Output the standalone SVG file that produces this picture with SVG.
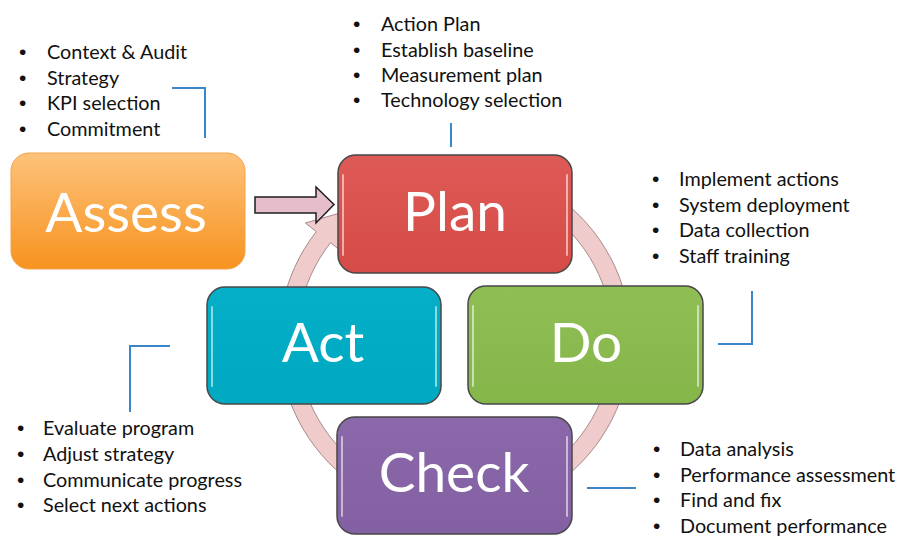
<svg xmlns="http://www.w3.org/2000/svg" width="898" height="537" viewBox="0 0 898 537">
  <defs>
    <linearGradient id="gAssess" x1="0" y1="0" x2="0" y2="1">
      <stop offset="0" stop-color="#FDC27A"/>
      <stop offset="1" stop-color="#F7931F"/>
    </linearGradient>
    <linearGradient id="gPlan" x1="0" y1="0" x2="0" y2="1">
      <stop offset="0" stop-color="#DE5A56"/>
      <stop offset="1" stop-color="#D54B47"/>
    </linearGradient>
    <linearGradient id="gDo" x1="0" y1="0" x2="0" y2="1">
      <stop offset="0" stop-color="#8FBE55"/>
      <stop offset="1" stop-color="#85B64A"/>
    </linearGradient>
    <linearGradient id="gAct" x1="0" y1="0" x2="0" y2="1">
      <stop offset="0" stop-color="#05AFC8"/>
      <stop offset="1" stop-color="#00A8C1"/>
    </linearGradient>
    <linearGradient id="gCheck" x1="0" y1="0" x2="0" y2="1">
      <stop offset="0" stop-color="#8B68A9"/>
      <stop offset="1" stop-color="#8260A2"/>
    </linearGradient>
  </defs>
  <style>
    .box { stroke: #474747; stroke-width: 1.5; }
    .gloss { stroke: #FFFFFF; stroke-width: 2; stroke-opacity: 0.55; fill: none; stroke-linecap: round; }
    .big { font-family: Lato, "Open Sans", "Liberation Sans", sans-serif; font-size: 55px; fill: #FFFFFF; text-anchor: middle; }
    .lst { font-family: Lato, "Open Sans", "Liberation Sans", sans-serif; font-size: 19.8px; fill: #111111; }
    .bul { font-family: "Liberation Sans", sans-serif; font-size: 21px; fill: #111111; }
    .blue { stroke: #3A86C8; stroke-width: 2; fill: none; }
  </style>

  <g id="connectors">
    <path id="cycle-ring" d="M 394.8 174.6 A 176 176 0 1 1 316.3 231.6 L 305.3 223.0 L 349.9 210.2 L 339.9 250.1 L 330.5 242.7 A 158 158 0 1 0 401.0 191.5 Z" fill="#EFCBCC" stroke="#A98A8A" stroke-width="1"/>
    <path id="assess-to-plan" d="M 255 197 L 316 197 L 316 187 L 334 204.5 L 316 223 L 316 213 L 255 213 Z" fill="#E6BECB" stroke="#1E1E1E" stroke-width="1.5" stroke-linejoin="miter"/>
    <polyline class="blue" points="172,88 205,88 205,138"/>
    <line class="blue" x1="451" y1="123" x2="451" y2="147"/>
    <polyline class="blue" points="752,291 752,344 718,344"/>
    <polyline class="blue" points="170,346 130,346 130,412"/>
    <line class="blue" x1="587" y1="488" x2="636" y2="488"/>
  </g>

  <g id="node-plan">
    <rect class="box" x="338" y="155" width="234" height="118" rx="18" fill="url(#gPlan)"/>
    <path class="gloss" d="M343 175 L343 255 M567 175 L567 255"/>
    <text class="big" x="455" y="231">Plan</text>
  </g>
  <g id="node-do">
    <rect class="box" x="468" y="286" width="235" height="118" rx="18" fill="url(#gDo)"/>
    <path class="gloss" d="M473 306 L473 386 M698 306 L698 386"/>
    <text class="big" x="586" y="362">Do</text>
  </g>
  <g id="node-check">
    <rect class="box" x="337" y="417" width="235" height="117" rx="18" fill="url(#gCheck)"/>
    <path class="gloss" d="M342 437 L342 516 M567 437 L567 516"/>
    <text class="big" x="454" y="492">Check</text>
  </g>
  <g id="node-act">
    <rect class="box" x="207" y="287" width="234" height="117" rx="18" fill="url(#gAct)"/>
    <path class="gloss" d="M212 307 L212 386 M436 307 L436 386"/>
    <text class="big" x="323" y="362">Act</text>
  </g>
  <g id="node-assess">
    <rect x="11" y="153" width="234" height="116" rx="18" fill="url(#gAssess)" stroke="#F2A24A" stroke-width="1"/>
    <text class="big" x="126" y="232">Assess</text>
  </g>

  <g id="notes-assess">
    <text class="bul" x="19" y="59">•</text><text class="lst" x="47" y="59">Context &amp; Audit</text>
    <text class="bul" x="19" y="85">•</text><text class="lst" x="47" y="85">Strategy</text>
    <text class="bul" x="19" y="110">•</text><text class="lst" x="47" y="110">KPI selection</text>
    <text class="bul" x="19" y="136">•</text><text class="lst" x="47" y="136">Commitment</text>
  </g>
  <g id="notes-plan">
    <text class="bul" x="353" y="31">•</text><text class="lst" x="381" y="31">Action Plan</text>
    <text class="bul" x="353" y="57">•</text><text class="lst" x="381" y="57">Establish baseline</text>
    <text class="bul" x="353" y="82">•</text><text class="lst" x="381" y="82">Measurement plan</text>
    <text class="bul" x="353" y="107">•</text><text class="lst" x="381" y="107">Technology selection</text>
  </g>
  <g id="notes-do">
    <text class="bul" x="652" y="186">•</text><text class="lst" x="679" y="186">Implement actions</text>
    <text class="bul" x="652" y="212">•</text><text class="lst" x="679" y="212">System deployment</text>
    <text class="bul" x="652" y="237">•</text><text class="lst" x="679" y="237">Data collection</text>
    <text class="bul" x="652" y="263">•</text><text class="lst" x="679" y="263">Staff training</text>
  </g>
  <g id="notes-act">
    <text class="bul" x="17" y="435">•</text><text class="lst" x="43" y="435">Evaluate program</text>
    <text class="bul" x="17" y="461">•</text><text class="lst" x="43" y="461">Adjust strategy</text>
    <text class="bul" x="17" y="487">•</text><text class="lst" x="43" y="487">Communicate progress</text>
    <text class="bul" x="17" y="512">•</text><text class="lst" x="43" y="512">Select next actions</text>
  </g>
  <g id="notes-check">
    <text class="bul" x="653" y="456">•</text><text class="lst" x="680" y="456">Data analysis</text>
    <text class="bul" x="653" y="482">•</text><text class="lst" x="680" y="482">Performance assessment</text>
    <text class="bul" x="653" y="507">•</text><text class="lst" x="680" y="507">Find and fix</text>
    <text class="bul" x="653" y="533">•</text><text class="lst" x="680" y="533">Document performance</text>
  </g>
</svg>
